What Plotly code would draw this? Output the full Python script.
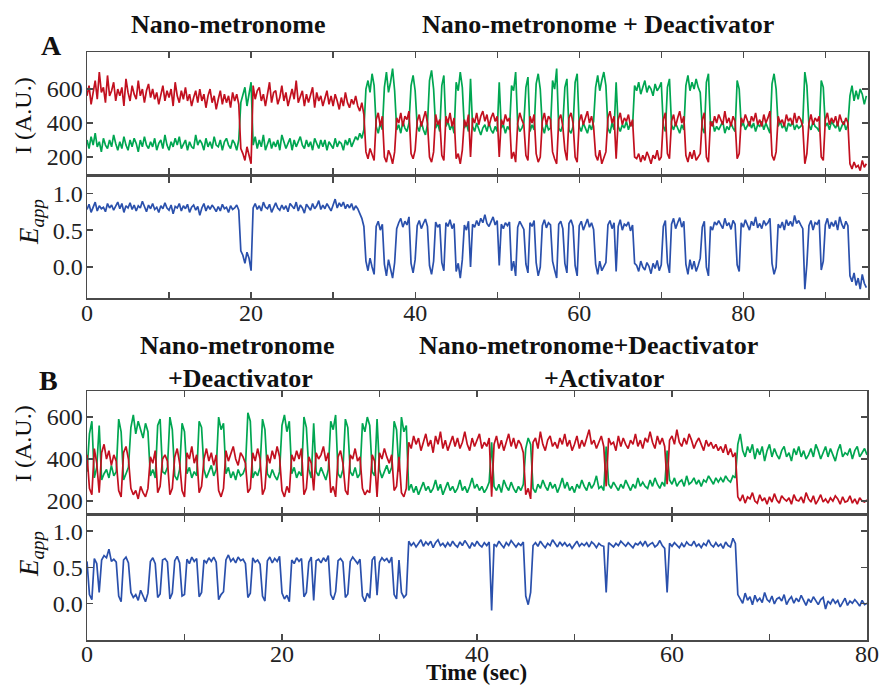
import plotly.graph_objects as go

DT = 0.25

# Panel A : Nano-metronome, then + Deactivator
A_red = [
    560, 620, 510, 590, 650, 540, 700, 580, 610, 520, 680, 560, 590, 640, 530, 600,
    560, 610, 500, 660, 580, 530, 620, 570, 540, 650, 560, 600, 520, 590, 630, 550,
    600, 540, 580, 510, 570, 620, 530, 590, 550, 600, 500, 640, 560, 520, 590, 540,
    610, 530, 570, 500, 550, 590, 520, 600, 530, 570, 490, 560, 600, 520, 560, 480,
    540, 590, 510, 570, 520, 560, 490, 580, 530, 570, 510, 250, 220, 180, 260, 200,
    160, 620, 540, 590, 610, 530, 570, 500, 560, 640, 520, 580, 590, 510, 550, 620,
    530, 580, 500, 560, 600, 540, 650, 520, 550, 590, 500, 570, 520, 560, 610, 490,
    580, 530, 560, 500, 540, 590, 510, 560, 500, 570, 530, 480, 550, 500, 580, 520,
    490, 540, 510, 560, 500, 470, 520, 450, 230, 190, 250, 210, 180, 420, 460, 380,
    440, 200, 170, 240, 210, 160, 230, 430, 400, 460, 380, 440, 420, 470, 220, 190,
    240, 410, 450, 380, 430, 470, 400, 200, 170, 230, 450, 390, 420, 210, 180, 440,
    400, 460, 380, 430, 190, 220, 160, 240, 420, 380, 450, 200, 430, 400, 460, 390,
    440, 470, 410, 450, 380, 430, 460, 410, 440, 200, 420, 390, 450, 410, 430, 190,
    230, 170, 400, 460, 420, 390, 210, 180, 440, 400, 450, 220, 170, 200, 410, 460,
    390, 440, 420, 230, 190, 160, 420, 450, 380, 240, 180, 430, 460, 400, 200, 170,
    410, 450, 390, 430, 470, 400, 440, 380, 210, 180, 240, 160, 200, 230, 430, 470,
    400, 440, 190, 420, 460, 390, 430, 410, 450, 380, 420, 200, 190, 220, 170, 210,
    180, 230, 200, 160, 210, 190, 240, 180, 200, 420, 460, 220, 190, 410, 450, 380,
    430, 470, 400, 440, 210, 170, 230, 190, 240, 180, 200, 220, 420, 460, 200, 170,
    410, 380, 440, 400, 450, 420, 390, 470, 400, 430, 380, 440, 410, 190, 220, 430,
    400, 450, 420, 380, 440, 410, 460, 390, 420, 380, 450, 400, 430, 470, 210, 180,
    230, 440, 400, 420, 380, 450, 410, 430, 390, 460, 400, 440, 420, 380, 160, 220,
    400, 450, 390, 430, 410, 440, 200, 180, 420, 460, 390, 430, 400, 440, 380, 450,
    410, 390, 430, 400, 160, 130, 170, 140, 150, 120, 180, 140, 160,
]
A_green = [
    300, 250, 320, 270, 340, 260, 290, 230, 310, 270, 250, 300, 260, 330, 280, 240,
    290, 250, 320, 270, 240, 300, 260, 310, 280, 230, 300, 260, 320, 270, 250, 290,
    260, 310, 240, 280, 300, 250, 330, 270, 240, 290, 260, 310, 270, 320, 250, 280,
    300, 240, 290, 260, 250, 330, 270, 300, 280, 240, 310, 260, 290, 250, 320, 270,
    260, 300, 240, 290, 310, 270, 250, 300, 280, 240, 300, 520, 560, 610, 500, 580,
    640, 270, 320, 250, 300, 260, 330, 240, 280, 310, 250, 290, 260, 300, 240, 330,
    290, 250, 280, 310, 240, 300, 260, 290, 320, 270, 250, 300, 260, 290, 240, 310,
    280, 250, 300, 260, 300, 240, 290, 270, 250, 310, 260, 290, 280, 240, 300, 270,
    310, 260, 290, 320, 300, 340, 310, 360, 600, 650, 580, 690, 620, 380, 340, 400,
    360, 610, 700, 580, 640, 720, 590, 360, 390, 340, 410, 370, 350, 400, 620, 680,
    590, 380, 350, 410, 360, 330, 390, 650, 710, 600, 370, 400, 350, 620, 680, 380,
    410, 360, 390, 340, 640, 590, 700, 610, 370, 400, 350, 660, 380, 350, 400, 360,
    330, 370, 390, 350, 400, 360, 340, 380, 350, 640, 370, 390, 340, 380, 360, 620,
    590, 700, 390, 350, 370, 400, 610, 670, 350, 390, 360, 630, 690, 600, 380, 340,
    400, 360, 370, 650, 600, 720, 370, 350, 390, 610, 660, 360, 340, 380, 640, 690,
    380, 350, 400, 370, 340, 390, 360, 410, 610, 680, 590, 650, 700, 620, 370, 340,
    400, 360, 640, 380, 350, 390, 370, 410, 360, 400, 380, 620, 590, 640, 570, 610,
    650, 580, 620, 600, 560, 630, 590, 610, 640, 380, 350, 610, 660, 390, 360, 400,
    370, 340, 390, 360, 620, 680, 590, 640, 600, 660, 610, 580, 370, 340, 640, 690,
    390, 410, 350, 380, 360, 390, 410, 340, 380, 360, 400, 370, 350, 650, 600, 380,
    400, 360, 390, 410, 370, 400, 350, 390, 380, 410, 360, 400, 370, 340, 630, 690,
    600, 380, 410, 370, 390, 350, 400, 380, 410, 360, 390, 370, 380, 400, 700, 620,
    390, 360, 410, 380, 370, 350, 650, 610, 380, 400, 360, 410, 390, 370, 400, 350,
    380, 410, 360, 390, 560, 620, 530, 590, 540, 600, 570, 510, 560,
]
A_E = [
    0.78, 0.85, 0.74, 0.82, 0.88, 0.76, 0.83, 0.79, 0.81, 0.75, 0.86, 0.80, 0.84, 0.77, 0.82, 0.88,
    0.79, 0.86, 0.74, 0.83, 0.80, 0.87, 0.78, 0.84, 0.76, 0.83, 0.80, 0.89, 0.82, 0.75, 0.84, 0.79,
    0.86, 0.78, 0.81, 0.74, 0.83, 0.79, 0.87, 0.80, 0.77, 0.84, 0.72, 0.82, 0.80, 0.86, 0.76, 0.83,
    0.79, 0.85, 0.74, 0.81, 0.84, 0.77, 0.82, 0.70, 0.80, 0.86, 0.76, 0.83, 0.78, 0.84, 0.80, 0.75,
    0.82, 0.76, 0.85, 0.79, 0.81, 0.74, 0.83, 0.78, 0.80, 0.84, 0.77, 0.22, 0.16, 0.05, 0.20, 0.12,
    -0.05, 0.80, 0.86, 0.78, 0.83, 0.76, 0.88, 0.81, 0.79, 0.85, 0.74, 0.82, 0.87, 0.80, 0.77, 0.84,
    0.78, 0.83, 0.75, 0.86, 0.82, 0.79, 0.88, 0.76, 0.84, 0.80, 0.73, 0.85, 0.81, 0.77, 0.86, 0.79,
    0.83, 0.90, 0.78, 0.84, 0.79, 0.86, 0.81, 0.76, 0.84, 0.92, 0.80, 0.87, 0.82, 0.88, 0.79, 0.85,
    0.80, 0.86, 0.77, 0.83, 0.79, 0.72, 0.66, 0.55, 0.08, -0.05, 0.12, 0.00, -0.10, 0.55, 0.62, 0.50,
    0.58, 0.04, -0.12, 0.10, -0.02, -0.15, 0.06, 0.52, 0.60, 0.66, 0.54, 0.62, 0.57, 0.68, 0.05, -0.08,
    0.10, 0.56, 0.63, 0.52, 0.59, 0.65, 0.55, 0.02, -0.10, 0.08, 0.61, 0.54, 0.58, 0.06, -0.05, 0.60,
    0.55, 0.64, 0.52, 0.59, -0.06, 0.05, -0.15, 0.10, 0.57, 0.50, 0.62, 0.00, 0.58, 0.54, 0.63, 0.56,
    0.66, 0.60, 0.71, 0.59, 0.55, 0.62, 0.68, 0.57, 0.63, 0.02, 0.58, 0.52, 0.60, 0.56, 0.61, -0.05,
    0.08, -0.12, 0.54, 0.62, 0.57, 0.51, 0.04, -0.08, 0.60, 0.55, 0.63, 0.06, -0.12, 0.00, 0.56, 0.64,
    0.53, 0.60, 0.57, 0.08, -0.04, -0.15, 0.58, 0.62, 0.52, 0.05, -0.08, 0.59, 0.64, 0.55, 0.02, -0.12,
    0.56, 0.62, 0.50, 0.58, 0.65, 0.54, 0.60, 0.51, 0.04, -0.10, 0.08, -0.05, 0.00, 0.06, 0.57, 0.63,
    0.52, 0.60, -0.06, 0.55, 0.64, 0.50, 0.58, 0.56, 0.61, 0.49, 0.57, 0.05, 0.02, -0.06, 0.08, 0.00,
    -0.04, 0.06, 0.01, -0.09, 0.05, -0.02, 0.09, -0.05, 0.03, 0.55, 0.63, 0.06, -0.08, 0.58, 0.66, 0.52,
    0.60, 0.67, 0.54, 0.62, 0.04, -0.10, 0.10, -0.03, 0.08, -0.06, 0.02, 0.12, 0.54, 0.62, 0.00, -0.12,
    0.55, 0.50, 0.61, 0.57, 0.63, 0.58, 0.52, 0.66, 0.56, 0.60, 0.51, 0.63, 0.58, 0.03, -0.06, 0.60,
    0.54, 0.64, 0.57, 0.50, 0.62, 0.56, 0.68, 0.53, 0.59, 0.52, 0.63, 0.57, 0.60, 0.66, 0.05, -0.10,
    0.00, 0.58, 0.53, 0.61, 0.50, 0.64, 0.56, 0.62, 0.55, 0.70, 0.59, 0.63, 0.57, 0.52, -0.30, 0.04,
    0.56, 0.63, 0.50, 0.60, 0.58, 0.64, -0.04, 0.08, 0.57, 0.66, 0.52, 0.61, 0.55, 0.63, 0.50, 0.68,
    0.58, 0.52, 0.62, 0.56, -0.12, -0.20, -0.08, -0.25, -0.15, -0.30, -0.10, -0.22, -0.28,
]

# Panel B : Nano-metronome + Deactivator, then + Activator
B_red = [
    420, 260, 230, 450, 380, 240, 430, 470, 400, 440, 370, 420, 390, 250, 220, 430,
    460, 400, 260, 230, 250, 210, 270, 240, 220, 260, 410, 380, 440, 240, 270, 400,
    420, 390, 230, 260, 410, 450, 380, 250, 220, 430, 400, 460, 380, 420, 240, 270,
    400, 450, 390, 430, 370, 420, 250, 220, 260, 440, 390, 420, 460, 400, 370, 430,
    410, 380, 240, 260, 430, 390, 450, 400, 230, 260, 420, 380, 440, 400, 460, 410,
    250, 220, 270, 240, 420, 390, 440, 400, 450, 230, 260, 410, 380, 250, 430, 400,
    420, 460, 390, 430, 240, 270, 220, 410, 440, 380, 250, 230, 420, 400, 450, 390,
    410, 260, 230, 250, 240, 420, 390, 220, 430, 400, 450, 410, 380, 420, 250, 270,
    410, 240, 220, 260, 480, 450, 510, 470, 500, 440, 480, 520, 460, 490, 430, 510,
    470, 530, 450, 490, 440, 480, 510, 460, 500, 450, 480, 530, 470, 440, 500, 460,
    490, 520, 450, 480, 460, 500, 220, 470, 510, 450, 490, 440, 480, 520, 460, 500,
    450, 490, 470, 430, 230, 260, 210, 480, 500, 450, 530, 470, 440, 490, 510, 460,
    480, 450, 500, 470, 520, 460, 490, 440, 470, 510, 450, 490, 460, 500, 540, 470,
    490, 450, 480, 510, 460, 270, 500, 470, 480, 440, 510, 460, 500, 470, 450, 490,
    470, 520, 460, 490, 450, 500, 480, 530, 480, 450, 510, 470, 500, 460, 280, 490,
    510, 470, 540, 480, 460, 500, 470, 520, 490, 450, 480, 500, 470, 440, 490, 460,
    480, 450, 470, 440, 460, 430, 470, 420, 450, 410, 430, 220, 200, 230, 190, 220,
    210, 240, 200, 190, 230, 200, 215, 185, 220, 195, 235, 205, 190, 225, 210, 200,
    215, 185, 230, 205, 200, 220, 190, 240, 210, 195, 225, 185, 205, 230, 195, 210,
    190, 215, 200, 225, 210, 185, 220, 195, 200, 225, 190, 210, 185, 215, 200, 195,
    205,
]
B_green = [
    340, 520, 580, 310, 360, 560, 300, 330, 350, 310, 370, 320, 340, 590, 530, 300,
    330, 360, 550, 610, 520, 580, 540, 500, 570, 530, 320, 350, 310, 560, 590, 340,
    330, 360, 600, 540, 320, 300, 350, 570, 530, 330, 360, 310, 340, 320, 580, 550,
    350, 310, 340, 370, 320, 350, 600, 540, 570, 330, 360, 310, 340, 300, 350, 320,
    330, 360, 620, 580, 310, 340, 320, 360, 590, 540, 330, 310, 350, 320, 300, 340,
    560, 610, 530, 580, 330, 360, 310, 340, 320, 600, 550, 350, 310, 570, 340, 320,
    360, 330, 300, 350, 580, 540, 610, 330, 310, 350, 590, 550, 340, 320, 360, 310,
    330, 570, 530, 600, 560, 340, 320, 590, 350, 310, 340, 370, 330, 360, 580, 540,
    340, 600, 530, 560, 250, 280, 240, 270, 230, 260, 290, 250, 270, 240, 260, 300,
    250, 280, 230, 260, 290, 250, 270, 240, 260, 300, 250, 270, 240, 270, 310, 260,
    280, 250, 270, 240, 260, 290, 480, 270, 250, 280, 240, 300, 270, 250, 290, 260,
    240, 270, 250, 280, 450, 500, 470, 260, 240, 280, 260, 300, 270, 250, 290, 260,
    280, 240, 270, 310, 260, 290, 250, 270, 240, 280, 260, 300, 270, 250, 290, 260,
    280, 320, 260, 270, 250, 460, 280, 260, 290, 270, 250, 280, 260, 300, 270, 250,
    280, 260, 310, 270, 290, 270, 260, 300, 270, 310, 280, 260, 290, 270, 440, 300,
    280, 310, 270, 290, 300, 270, 320, 280, 290, 310, 280, 300, 270, 300, 290, 320,
    300, 280, 310, 290, 310, 290, 320, 300, 290, 320, 310, 470, 520, 440, 410, 460,
    430, 470, 400, 450, 420, 460, 390, 440, 470, 410, 450, 420, 400, 440, 460, 410,
    430, 390, 450, 420, 460, 410, 440, 400, 420, 450, 410, 470, 440, 400, 430, 460,
    410, 450, 420, 390, 440, 470, 410, 430, 420, 450, 400, 440, 460, 410, 430, 450,
    420,
]
B_E = [
    0.58, 0.12, 0.05, 0.62, 0.55, 0.15, 0.60, 0.66, 0.63, 0.75, 0.58, 0.61, 0.57, 0.10, 0.02, 0.60,
    0.64, 0.56, 0.15, 0.08, 0.12, 0.04, 0.18, 0.10, 0.02, 0.14, 0.58, 0.63, 0.55, 0.08, 0.13, 0.60,
    0.62, 0.57, 0.06, 0.14, 0.59, 0.65, 0.56, 0.10, 0.12, 0.61, 0.55, 0.64, 0.58, 0.62, 0.09, 0.15,
    0.60, 0.56, 0.63, 0.58, 0.64, 0.57, 0.05, 0.12, 0.16, 0.60, 0.67, 0.58, 0.62, 0.56, 0.64, 0.59,
    0.61, 0.55, 0.08, 0.14, 0.63, 0.57, 0.60, 0.54, 0.10, 0.03, 0.59, 0.64, 0.56, 0.62, 0.58, 0.65,
    0.14, 0.06, 0.11, 0.02, 0.60, 0.55, 0.63, 0.58, 0.62, 0.09, 0.15, 0.57, 0.64, 0.04, 0.59, 0.61,
    0.56, 0.63, 0.58, 0.66, 0.12, 0.05, 0.16, 0.59, 0.62, 0.57, 0.08, 0.13, 0.58, 0.64, 0.60, 0.55,
    0.61, 0.10, 0.02, 0.14, 0.07, 0.60, 0.65, 0.11, 0.57, 0.63, 0.59, 0.62, 0.56, 0.64, 0.12, 0.06,
    0.60, 0.15, 0.08, 0.12, 0.86, 0.80, 0.84, 0.78, 0.83, 0.88, 0.79, 0.85, 0.81, 0.86, 0.77, 0.84,
    0.88, 0.80, 0.83, 0.78, 0.84, 0.79, 0.86, 0.81, 0.78, 0.85, 0.80, 0.87, 0.82, 0.76, 0.84, 0.79,
    0.86, 0.81, 0.78, 0.84, 0.80, 0.85, -0.10, 0.82, 0.79, 0.86, 0.81, 0.77, 0.84, 0.80, 0.87, 0.82,
    0.78, 0.83, 0.80, 0.85, 0.10, -0.02, 0.15, 0.80, 0.84, 0.79, 0.86, 0.81, 0.77, 0.83, 0.80, 0.88,
    0.82, 0.78, 0.85, 0.80, 0.84, 0.79, 0.82, 0.76, 0.81, 0.86, 0.79, 0.83, 0.80, 0.84, 0.78, 0.85,
    0.82, 0.77, 0.83, 0.80, 0.79, 0.15, 0.84, 0.81, 0.78, 0.83, 0.80, 0.86, 0.82, 0.79, 0.84, 0.80,
    0.77, 0.83, 0.81, 0.85, 0.80, 0.86, 0.79, 0.82, 0.84, 0.78, 0.81, 0.87, 0.80, 0.76, 0.15, 0.83,
    0.79, 0.84, 0.80, 0.77, 0.83, 0.78, 0.85, 0.81, 0.80, 0.86, 0.79, 0.82, 0.77, 0.83, 0.80, 0.88,
    0.81, 0.78, 0.84, 0.79, 0.82, 0.76, 0.85, 0.80, 0.78, 0.90, 0.83, 0.12, 0.06, 0.00, 0.14, 0.04,
    0.09, -0.02, 0.11, 0.03, 0.07, 0.01, 0.15, 0.05, 0.02, 0.10, -0.01, 0.06, 0.08, 0.03, 0.12, -0.02,
    0.05, 0.09, 0.00, 0.07, 0.02, 0.11, 0.04, -0.03, 0.06, 0.01, 0.09, 0.03, -0.02, 0.05, 0.08, -0.08,
    0.03, -0.01, 0.06, 0.00, 0.04, -0.05, 0.02, 0.07, -0.03, 0.03, 0.00, 0.05, 0.01, -0.04, 0.04, -0.02,
    0.00,
]

# axis ticks
A_XLABELS = [0, 20, 40, 60, 80]
A_XMINOR = [10, 30, 50, 70, 90]
B_XLABELS = [0, 20, 40, 60, 80]
B_XMINOR = [10, 30, 50, 70]
I_TICKS = [200, 400, 600]
E_TICKS = [0.0, 0.5, 1.0]

RED = "#C2101F"
GREEN = "#00A651"
BLUE = "#2A50AC"
FONT = "Times New Roman, Liberation Serif, Times, serif"
AX = "#4a4a4a"
LW = 1.7


def times(vals):
    return [i * DT for i in range(len(vals))]


fig = go.Figure()
line_kw = dict(mode="lines", hoverinfo="skip", showlegend=False)
fig.add_trace(go.Scatter(x=times(A_green), y=A_green, line=dict(color=GREEN, width=LW), xaxis="x", yaxis="y", **line_kw))
fig.add_trace(go.Scatter(x=times(A_red), y=A_red, line=dict(color=RED, width=LW), xaxis="x", yaxis="y", **line_kw))
fig.add_trace(go.Scatter(x=times(A_E), y=A_E, line=dict(color=BLUE, width=LW), xaxis="x2", yaxis="y2", **line_kw))
fig.add_trace(go.Scatter(x=times(B_green), y=B_green, line=dict(color=GREEN, width=LW), xaxis="x3", yaxis="y3", **line_kw))
fig.add_trace(go.Scatter(x=times(B_red), y=B_red, line=dict(color=RED, width=LW), xaxis="x3", yaxis="y3", **line_kw))
fig.add_trace(go.Scatter(x=times(B_E), y=B_E, line=dict(color=BLUE, width=LW), xaxis="x4", yaxis="y4", **line_kw))

W, H = 881, 685


def px_x(a, b):
    return [a / W, b / W]


def px_y(top, bottom):
    return [1 - bottom / H, 1 - top / H]


common = dict(showline=True, linecolor=AX, linewidth=1.5, mirror="ticks", ticks="inside",
              ticklen=6, tickwidth=1.3, tickcolor=AX, showgrid=False, zeroline=False,
              automargin=False, fixedrange=True,
              tickfont=dict(family=FONT, size=24, color="#222"))
minor_kw = dict(ticks="inside", ticklen=6, tickwidth=1.3, tickcolor=AX, showgrid=False)

fig.update_layout(
    template="none",
    width=W, height=H, autosize=False,
    margin=dict(l=0, r=0, t=0, b=0, pad=0),
    paper_bgcolor="white", plot_bgcolor="white",
    hovermode=False, showlegend=False,
    xaxis=dict(domain=px_x(87, 868), range=[0, 95.2], anchor="y", tickvals=A_XLABELS,
               minor=dict(tickvals=A_XMINOR, **minor_kw), showticklabels=False, **common),
    xaxis2=dict(domain=px_x(87, 868), range=[0, 95.2], anchor="y2", tickvals=A_XLABELS,
                minor=dict(tickvals=A_XMINOR, **minor_kw), ticklabelstandoff=-7, **common),
    yaxis=dict(domain=px_y(52, 174), range=[100, 818], anchor="x", tickvals=I_TICKS,
               ticklabelstandoff=-2, **common),
    yaxis2=dict(domain=px_y(177, 298), range=[-0.42, 1.22], anchor="x2", tickvals=E_TICKS,
                ticktext=["0.0", "0.5", "1.0"], ticklabelstandoff=-2, **common),
    xaxis3=dict(domain=px_x(87, 867), range=[0, 80], anchor="y3", tickvals=B_XLABELS,
                minor=dict(tickvals=B_XMINOR, **minor_kw), showticklabels=False, **common),
    xaxis4=dict(domain=px_x(87, 867), range=[0, 80], anchor="y4", tickvals=B_XLABELS,
                minor=dict(tickvals=B_XMINOR, **minor_kw), ticklabelstandoff=-8, **common),
    yaxis3=dict(domain=px_y(391, 513), range=[143, 724], anchor="x3", tickvals=I_TICKS,
                ticklabelstandoff=-2, **common),
    yaxis4=dict(domain=px_y(516, 640), range=[-0.51, 1.21], anchor="x4", tickvals=E_TICKS,
                ticktext=["0.0", "0.5", "1.0"], ticklabelstandoff=-2, **common),
)


def note(text, x, y, size=25, bold=True, angle=0):
    fig.add_annotation(text=f"<b>{text}</b>" if bold else text, x=x / W, y=1 - y / H,
                       xref="paper", yref="paper", showarrow=False, textangle=angle,
                       xanchor="center", yanchor="middle",
                       font=dict(family=FONT, size=size, color="#111"))


note("Nano-metronome", 228, 25, size=26)
note("Nano-metronome + Deactivator", 598, 25, size=26)
note("A", 51, 46, size=28)
note("Nano-metronome", 237, 345, size=26)
note("+Deactivator", 240, 378, size=26)
note("Nano-metronome+Deactivator", 588, 345, size=26)
note("+Activator", 604, 378, size=26)
note("B", 48, 380, size=28)
note("Time (sec)", 476, 672, size=23)
note("I (A.U.)", 23, 116, size=24, bold=False, angle=-90)
note("I (A.U.)", 23, 444, size=24, bold=False, angle=-90)
note("<i>E</i><sub><i>app</i></sub>", 31, 222, size=27, bold=False, angle=-90)
note("<i>E</i><sub><i>app</i></sub>", 31, 554, size=27, bold=False, angle=-90)

fig.write_html(
    "out.html",
    config={"displayModeBar": False, "staticPlot": True},
    post_script="document.body.style.margin='0';document.body.style.padding='0';document.body.style.overflow='hidden';",
)
